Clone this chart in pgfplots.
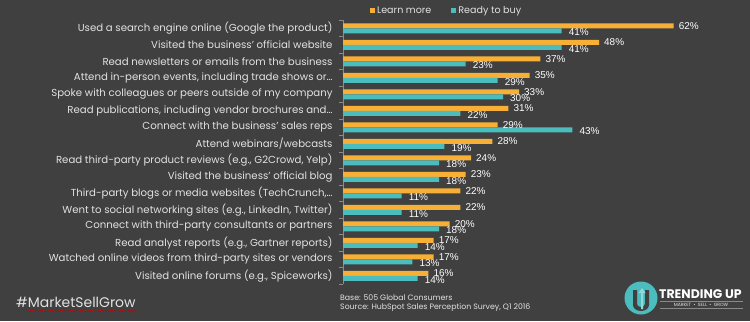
\documentclass[border=0pt]{standalone}
\usepackage{pgfplots}
\pgfplotsset{compat=1.18}
\usepackage{fontspec}
\setmainfont{Poppins}
\newfontfamily\arialf{Liberation Sans}
\usetikzlibrary{decorations.pathmorphing}
\definecolor{bgcol}{HTML}{404040}
\definecolor{orangebar}{HTML}{F7B035}
\definecolor{tealbar}{HTML}{4BBDBE}
\definecolor{labgray}{HTML}{E2E2E2}
\definecolor{axgray}{HTML}{8A8A8A}
\begin{document}
\begin{tikzpicture}[x=1bp,y=1bp]
\fill[bgcol] (0,0) rectangle (750,321);
\begin{axis}[
  at={(343bp,37bp)}, anchor=south west, scale only axis,
  width=400bp, height=264bp,
  xmin=0, xmax=75, ymin=-0.5, ymax=15.5, y dir=reverse,
  xbar, bar width=5bp,
  axis x line=none, axis y line*=left,
  axis line style={axgray, line width=0.8bp},
  ytick={0,...,15},
  yticklabels={
    {Used a search engine online (Google the product)},
    {Visited the business’ official website},
    {Read newsletters or emails from the business},
    {Attend in-person events, including trade shows or…},
    {Spoke with colleagues or peers outside of my company},
    {Read publications, including vendor brochures and…},
    {Connect with the business’ sales reps},
    {Attend webinars/webcasts},
    {Read third-party product reviews (e.g., G2Crowd, Yelp)},
    {Visited the business’ official blog},
    {Third-party blogs or media websites (TechCrunch,…},
    {Went to social networking sites (e.g., LinkedIn, Twitter)},
    {Connect with third-party consultants or partners},
    {Read analyst reports (e.g., Gartner reports)},
    {Watched online videos from third-party sites or vendors},
    {Visited online forums (e.g., Spiceworks)}},
  major tick length=0pt,
  minor ytick={-0.5,0.5,...,15.5},
  minor tick length=4bp,
  tick align=outside,
  tick style={axgray, line width=0.8bp},
  yticklabel style={font=\fontsize{10.2}{11}\selectfont, text=labgray, xshift=-7bp},
  nodes near coords={\pgfmathprintnumber[assume math mode=true]{\pgfplotspointmeta}\%},
  every node near coord/.append style={font=\arialf\fontsize{10}{12}\selectfont, text=white, inner sep=1bp},
  legend columns=2,
  legend style={at={(0.06,1.068)}, anchor=north west, draw=none, fill=none,
    text=labgray, font=\fontsize{9.6}{11}\selectfont,
    /tikz/every even column/.append style={column sep=18bp}},
  legend image code/.code={\fill[#1] (0bp,-2.5bp) rectangle (5bp,2.5bp);},
]
\addplot[fill=orangebar, draw=none, bar shift=2.5bp,
  every node near coord/.append style={xshift=4bp, yshift=0bp}] coordinates {
(62,0) (48,1) (37,2) (35,3) (33,4) (31,5) (29,6) (28,7)
(24,8) (23,9) (22,10) (22,11) (20,12) (17,13) (17,14) (16,15)};
\addplot[fill=tealbar, draw=none, bar shift=-2.5bp,
  every node near coord/.append style={xshift=6bp, yshift=-1.5bp}] coordinates {
(41,0) (41,1) (23,2) (29,3) (30,4) (22,5) (43,6) (19,7)
(18,8) (18,9) (11,10) (11,11) (18,12) (14,13) (13,14) (14,15)};
\legend{Learn more, Ready to buy}
\end{axis}
% footer
\node[anchor=west, text=labgray, font=\fontsize{14}{16}\selectfont, inner sep=0] at (16,18.5) {\#MarketSellGrow};
\draw[red!80!black, line width=0.5bp, decorate, decoration={snake, amplitude=0.6bp, segment length=2.5bp}] (27,10) -- (138,10);
\node[anchor=west, text=labgray, font=\fontsize{7.8}{9.5}\selectfont, inner sep=0, align=left] at (340,18) {Base: 505 Global Consumers\\Source: HubSpot Sales Perception Survey, Q1 2016};
% logo
\fill[tealbar] (641,23) circle (16.5);
\fill[bgcol] (633,31) -- (633,16) arc (180:360:8 and 6) -- (649,31) -- (645,31) -- (645,17) arc (0:-180:4 and 3) -- (637,31) -- cycle;
\fill[tealbar!60!white] (641,12) -- (641,28) -- (638.5,28) -- (642,33) -- (645.5,28) -- (643,28) -- (643,12) -- cycle;
\node[anchor=west, text=white, font=\bfseries\fontsize{12.5}{14}\selectfont, inner sep=0] at (659,27) {TRENDING UP};
\draw[axgray, line width=0.5bp] (660,20) -- (743,20);
\draw[axgray, line width=0.5bp] (660,12.5) -- (743,12.5);
\node[text=labgray, font=\fontsize{4.6}{5}\selectfont, inner sep=0] at (701,16.3) {MARKET \ \textbullet\ \ SELL \ \textbullet\ \ GROW};
\end{tikzpicture}
\end{document}
